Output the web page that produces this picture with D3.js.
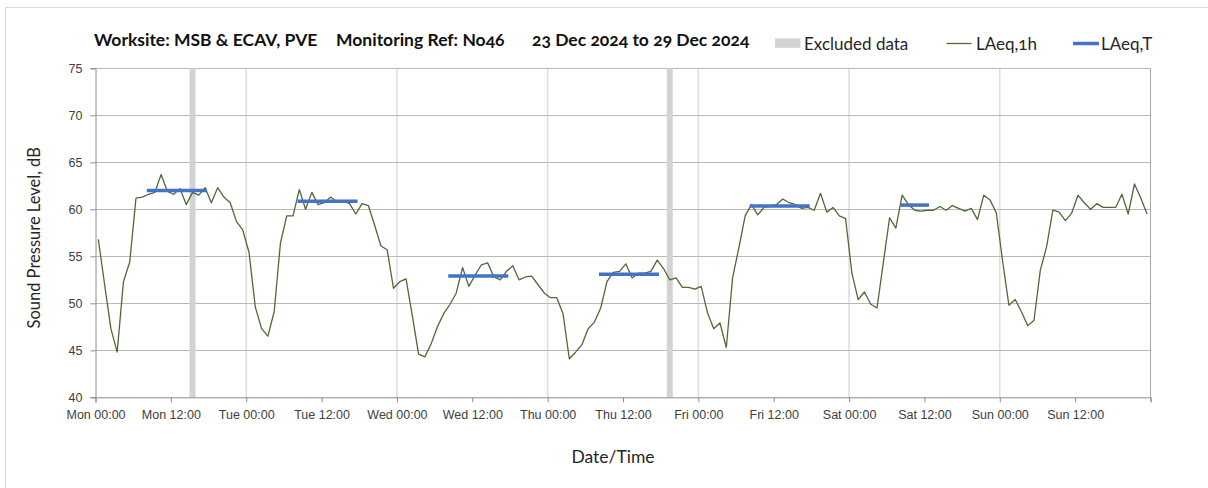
<!DOCTYPE html>
<html><head><meta charset="utf-8">
<script src="https://cdn.jsdelivr.net/npm/d3@7"></script>
<style>
html,body{margin:0;padding:0;background:#fff;}
svg{display:block;font-family:Lato,"Open Sans",sans-serif;font-variant-numeric:oldstyle-nums;font-feature-settings:"onum" 1;}
</style></head><body><svg id="c" width="1208" height="488"></svg>
<script>
// ---- data ----
const dayNames = ["Mon","Tue","Wed","Thu","Fri","Sat","Sun"];
const monValues = [56.8,52.0,47.3,44.8,52.3,54.4,61.2,61.3,61.6,61.8,63.7,61.9,61.6,62.2,60.5,61.8,61.5,62.3,60.7,62.3,61.3,60.7,58.7,57.8];
const tueValues = [55.4,49.6,47.3,46.5,49.1,56.4,59.3,59.3,62.1,60.0,61.8,60.5,60.7,61.3,60.8,60.9,60.6,59.5,60.6,60.4,58.3,56.1,55.7,51.6];
const wedValues = [52.3,52.6,48.7,44.6,44.3,45.7,47.5,48.9,49.9,51.1,53.8,51.8,53.0,54.1,54.3,52.8,52.5,53.4,54.0,52.5,52.8,52.9,52.0,51.1];
const thuValues = [50.6,50.6,48.9,44.1,44.8,45.6,47.3,48.0,49.5,52.3,53.3,53.4,54.2,52.7,53.2,53.2,53.4,54.6,53.7,52.5,52.7,51.7,51.7,51.5];
const friValues = [51.8,49.0,47.3,47.9,45.3,52.7,55.9,59.3,60.5,59.4,60.2,60.3,60.5,61.1,60.7,60.5,60.1,60.2,59.9,61.7,59.7,60.2,59.3,59.0];
const satValues = [53.2,50.4,51.2,49.9,49.5,54.3,59.1,58.0,61.5,60.5,59.9,59.8,59.9,59.9,60.3,59.9,60.4,60.1,59.8,60.1,58.9,61.5,61.0,59.6];
const sunValues = [54.5,49.8,50.4,49.1,47.6,48.2,53.5,56.0,59.9,59.7,58.8,59.6,61.5,60.7,60.0,60.6,60.2,60.2,60.2,61.6,59.5,62.7,61.2,59.5];
const laeq1h = [].concat(monValues,tueValues,wedValues,thuValues,friValues,satValues,sunValues);
const hourIndex = laeq1h.map((_, i) => i);           // hours since Mon 00:00
const excludedHours = [15, 91];                       // Mon 15:00, Thu 19:00
const laeqTStart = [8, 32, 56, 80, 104, 128];
const laeqTEnd   = [17, 41, 65, 89, 113, 132];
const laeqTValue = [62.0, 60.85, 52.9, 53.1, 60.35, 60.45];
const yTicks = [40,45,50,55,60,65,70,75];
const xTickHours = [0,12,24,36,48,60,72,84,96,108,120,132,144,156,168];
const titleParts = ["Worksite: MSB & ECAV, PVE","Monitoring Ref: No46","23 Dec 2024 to 29 Dec 2024"];

// ---- layout ----
const svg = d3.select("#c");
const L = 95.5, R = 1150.5, T = 68.3, B = 397.3;
const x = d3.scaleLinear().domain([0,168]).range([L,R]);
const y = d3.scaleLinear().domain([40,75]).range([B,T]);
const px = h => x(h + 0.45);
const lineColor = "#4e6a36";

// outer chart border
svg.append("rect").attr("x",5.5).attr("y",7.5).attr("width",1220).attr("height",500)
  .attr("fill","#fff").attr("stroke","#d9d9d9").attr("stroke-width",1);

// vertical day gridlines
svg.append("g").selectAll("line").data(xTickHours.filter(h => h%24===0 && h>0 && h<168)).join("line")
  .attr("x1",d=>x(d)).attr("x2",d=>x(d)).attr("y1",T).attr("y2",B)
  .attr("stroke","#dedede").attr("stroke-width",1.6);

// horizontal gridlines
svg.append("g").selectAll("line").data(yTicks.filter(v=>v>40)).join("line")
  .attr("x1",L).attr("x2",R).attr("y1",d=>Math.round(y(d))+0.5).attr("y2",d=>Math.round(y(d))+0.5)
  .attr("stroke","#b9b9b9").attr("stroke-width",1);

// excluded bars
svg.append("g").selectAll("rect").data(excludedHours).join("rect")
  .attr("x",d=>px(d)-3).attr("width",6).attr("y",T).attr("height",B-T)
  .attr("fill","#d3d3d3");

// right border
svg.append("line").attr("x1",R).attr("x2",R).attr("y1",T).attr("y2",B).attr("stroke","#a6a6a6");

// axes
const yAxis = d3.axisLeft(y).tickValues(yTicks).tickSize(5).tickPadding(8).tickFormat(d3.format("d"));
const gy = svg.append("g").attr("transform",`translate(${L},0)`).call(yAxis);
gy.select(".domain").attr("stroke","#8c8c8c");
gy.selectAll(".tick line").attr("stroke","#8c8c8c");
gy.selectAll("text").attr("font-size",12.5).attr("fill","#404040");

const xAxis = d3.axisBottom(x).tickValues(xTickHours).tickSize(5).tickPadding(8)
  .tickFormat(h => h>=168 ? "" : dayNames[Math.floor(h/24)] + (h%24===0 ? " 00:00" : " 12:00"));
const gx = svg.append("g").attr("transform",`translate(0,${B})`).call(xAxis);
gx.select(".domain").attr("stroke","#8c8c8c");
gx.selectAll(".tick line").attr("stroke","#8c8c8c");
gx.selectAll("text").attr("font-size",12.5).attr("fill","#404040");

// LAeq,1h line
const line = d3.line().x((d,i)=>px(hourIndex[i])).y(d=>y(d));
svg.append("path").datum(laeq1h).attr("d",line)
  .attr("fill","none").attr("stroke",lineColor).attr("stroke-width",1.3).attr("stroke-linejoin","round");

// LAeq,T segments
svg.append("g").selectAll("line").data(laeqTValue).join("line")
  .attr("x1",(d,i)=>px(laeqTStart[i])).attr("x2",(d,i)=>px(laeqTEnd[i]))
  .attr("y1",d=>y(d)).attr("y2",d=>y(d))
  .attr("stroke","#4472c4").attr("stroke-width",3.5).attr("stroke-linecap","square");

// axis titles
svg.append("text").attr("x",613).attr("y",463).attr("text-anchor","middle")
  .attr("font-size",17.5).attr("fill","#262626").text("Date/Time");
svg.append("text").attr("transform",`translate(40,${(T+B)/2 + 5}) rotate(-90)`).attr("text-anchor","middle")
  .attr("font-size",16.5).attr("fill","#262626").text("Sound Pressure Level, dB");

// title
const titleX = [94, 336, 532];
svg.append("g").selectAll("text").data(titleParts).join("text")
  .attr("x",(d,i)=>titleX[i]).attr("y",46).attr("font-size",17.5).attr("font-weight","bold")
  .attr("fill","#111").text(d=>d);

// legend
const lg = svg.append("g");
lg.append("rect").attr("x",775).attr("y",38.3).attr("width",25.5).attr("height",9.5).attr("fill","#d3d3d3");
lg.append("text").attr("x",804).attr("y",50).attr("font-size",17).attr("fill","#262626").text("Excluded data");
lg.append("line").attr("x1",946.5).attr("x2",971.5).attr("y1",43.5).attr("y2",43.5).attr("stroke",lineColor).attr("stroke-width",1.3);
lg.append("text").attr("x",976).attr("y",50).attr("font-size",17).attr("fill","#262626").text("LAeq,1h");
lg.append("line").attr("x1",1073).attr("x2",1099).attr("y1",43.5).attr("y2",43.5).attr("stroke","#4472c4").attr("stroke-width",3.5);
lg.append("text").attr("x",1101).attr("y",50).attr("font-size",17).attr("fill","#262626").text("LAeq,T");
</script></body></html>
